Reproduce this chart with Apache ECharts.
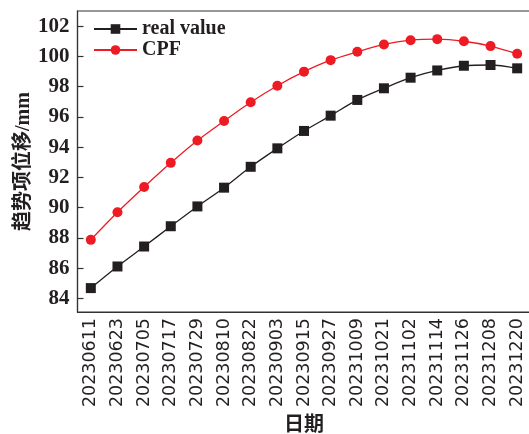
<!DOCTYPE html>
<html>
<head>
<meta charset="utf-8">
<script src="https://cdn.jsdelivr.net/npm/echarts@6/dist/echarts.min.js"></script>
<style>html,body{margin:0;padding:0;background:#fff;}#c{width:529px;height:434px;}</style>
</head>
<body>
<div id="c"></div>
<script>
const categories = ['20230611','20230623','20230705','20230717','20230729','20230810','20230822','20230903','20230915','20230927','20231009','20231021','20231102','20231114','20231126','20231208','20231220'];
const realValue = [84.68, 86.11, 87.43, 88.77, 90.08, 91.32, 92.70, 93.92, 95.07, 96.08, 97.12, 97.89, 98.59, 99.07, 99.38, 99.43, 99.21];
const cpfValue = [87.87, 89.69, 91.36, 92.96, 94.44, 95.73, 96.97, 98.06, 98.99, 99.75, 100.30, 100.79, 101.07, 101.14, 101.00, 100.68, 100.17];
const yName = '趋势项位移/mm';
const xName = '日期';

const chart = echarts.init(document.getElementById('c'), null, {renderer: 'canvas'});
const axisColor = '#333333';
chart.setOption({
  animation: false,
  backgroundColor: '#ffffff',
  grid: {left: 77.5, right: -1.5, top: 11, bottom: 122, show: true, borderColor: axisColor, borderWidth: 1.2, backgroundColor: 'transparent', outerBoundsMode: 'none', containLabel: false},
  legend: {
    orient: 'vertical', left: 88, top: 14, itemWidth: 43, itemHeight: 12, itemGap: 1,
    textStyle: {fontFamily: 'Liberation Serif', fontWeight: 'bold', fontSize: 20, color: '#231f20', lineHeight: 20},
    data: ['real value', 'CPF']
  },
  xAxis: {
    type: 'category', data: categories, boundaryGap: true,
    name: xName, nameLocation: 'middle', nameGap: 101, nameMoveOverlap: false,
    nameTextStyle: {fontFamily: 'Noto Sans CJK SC', fontWeight: 'bold', fontSize: 20, color: '#231f20'},
    axisLine: {lineStyle: {color: axisColor, width: 1.2}},
    axisTick: {inside: true, alignWithLabel: true, length: 6, lineStyle: {color: axisColor, width: 1.2}},
    axisLabel: {rotate: 90, interval: 0, margin: 6, fontFamily: 'DejaVu Sans', fontSize: 17.5, color: '#231f20'},
    splitLine: {show: false}
  },
  yAxis: {
    type: 'value', min: 83.1, max: 103, splitNumber: 10,
    name: yName, nameLocation: 'middle', nameGap: 44, nameRotate: 90, nameMoveOverlap: false,
    nameTextStyle: {fontFamily: 'Liberation Serif, Noto Sans CJK SC', fontWeight: 'bold', fontSize: 20, color: '#231f20'},
    axisLine: {show: true, lineStyle: {color: axisColor, width: 1.2}},
    axisTick: {show: true, inside: true, length: 6, lineStyle: {color: axisColor, width: 1.2}},
    axisLabel: {margin: 8, showMinLabel: false, showMaxLabel: false, fontFamily: 'Liberation Serif', fontWeight: 'bold', fontSize: 21, color: '#231f20',
      formatter: v => (Math.abs(v - Math.round(v)) < 1e-6 ? String(Math.round(v)) : '')},
    splitLine: {show: false}
  },
  series: [
    {name: 'real value', type: 'line', data: realValue, smooth: 0.3,
     symbol: 'rect', symbolSize: 10,
     itemStyle: {color: '#231f20'}, lineStyle: {color: '#231f20', width: 1.3}},
    {name: 'CPF', type: 'line', data: cpfValue, smooth: 0.3,
     symbol: 'circle', symbolSize: 10,
     itemStyle: {color: '#ed1c24'}, lineStyle: {color: '#ed1c24', width: 1.3}}
  ]
});
</script>
</body>
</html>
